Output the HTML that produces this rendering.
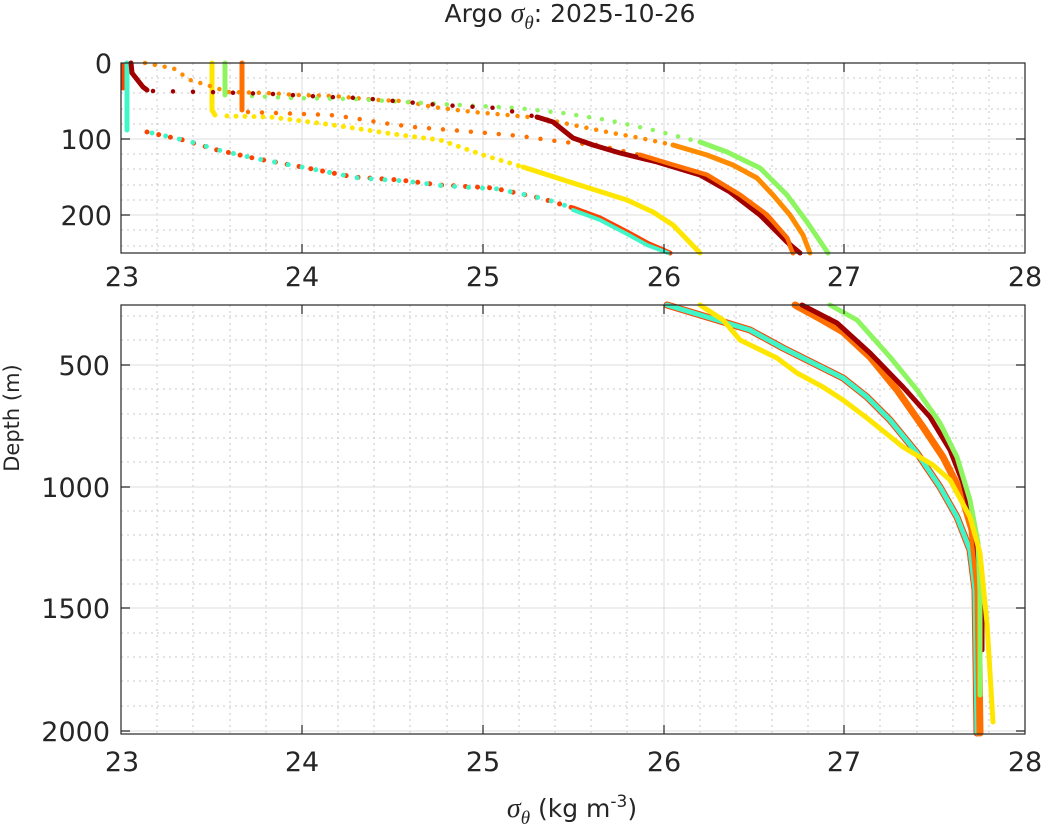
<!DOCTYPE html>
<html><head><meta charset="utf-8"><style>
body{margin:0;background:#fff;}
text{font-family:"DejaVu Sans","Liberation Sans",sans-serif;fill:#262626;}
</style></head><body>
<svg width="1044" height="835" viewBox="0 0 1044 835" xmlns="http://www.w3.org/2000/svg">
<g>
<g stroke="#c8c8c8" stroke-width="1" stroke-dasharray="2,4">
<path d="M157,63V253M193,63V253M230,63V253M266,63V253M338,63V253M374,63V253M410,63V253M447,63V253M519,63V253M555,63V253M591,63V253M627,63V253M700,63V253M736,63V253M772,63V253M808,63V253M880,63V253M917,63V253M953,63V253M989,63V253"/>
<path d="M121,78H1025M121,93H1025M121,109H1025M121,124H1025M121,154H1025M121,169H1025M121,185H1025M121,200H1025M121,230H1025M121,246H1025"/>
</g>
<g stroke="#dcdcdc" stroke-width="1">
<path d="M302,63V253M483,63V253M664,63V253M844,63V253M121,139H1025M121,215H1025"/>
</g>
<g fill="none" stroke-linecap="round" stroke-linejoin="round">
<path d="M123,65 L123,88" stroke="#ff4000" stroke-width="5"/>
<path d="M127,63 L127,130" stroke="#40f5c8" stroke-width="5"/>
<path d="M147,132 L183,140 L217,150 L253,158 L307,168 L353,177 L400,180 L440,185 L493,188 L540,198 L573,208" stroke="#ff4000" stroke-width="5" stroke-dasharray="0,12"/>
<path d="M152,133 L188,141 L222,151 L258,159 L312,169 L358,178 L405,181 L445,186 L498,189 L545,199 L573,208" stroke="#40f5c8" stroke-width="5" stroke-dasharray="0,14"/>
<path d="M573,208 L600,218 L627,232 L647,243 L670,253" stroke="#ff4000" stroke-width="5"/>
<path d="M573,210 L600,220 L627,234 L647,245 L668,253" stroke="#40f5c8" stroke-width="4"/>
<path d="M212,63 L212,110 L215,115" stroke="#ffe600" stroke-width="5"/>
<path d="M227,116 L270,117 L333,125 L400,135 L440,140 L483,155 L523,167" stroke="#ffe600" stroke-width="5" stroke-dasharray="0,9"/>
<path d="M523,167 L573,183 L627,200 L653,212 L673,225 L700,253" stroke="#ffe600" stroke-width="5"/>
<path d="M145,63 L160,66 L173,68 L190,80 L207,85 L228,92 L267,93 L297,95 L333,96 L377,100 L403,101 L433,107 L473,112 L507,115 L540,118 L573,125 L607,132 L640,138 L673,145" stroke="#ff8c00" stroke-width="4.5" stroke-dasharray="0,10"/>
<path d="M673,145 L707,155 L733,165 L757,178 L773,195 L790,215 L803,235 L810,253" stroke="#ff8c00" stroke-width="5"/>
<path d="M242,63 L242,110" stroke="#ff7000" stroke-width="5"/>
<path d="M248,112 L330,115 L353,118 L383,123 L413,127 L450,130 L487,133 L520,136 L563,142 L597,145 L640,155" stroke="#ff7000" stroke-width="4.5" stroke-dasharray="0,14"/>
<path d="M640,155 L673,165 L707,175 L740,195 L767,215 L787,238 L793,253" stroke="#ff7000" stroke-width="5"/>
<path d="M225,63 L225,95" stroke="#8cf560" stroke-width="5"/>
<path d="M252,96 L289,98 L353,99 L440,104 L517,108 L563,113 L607,120 L653,130 L700,142" stroke="#8cf560" stroke-width="4.5" stroke-dasharray="0,13"/>
<path d="M700,142 L727,152 L760,168 L787,195 L807,222 L828,253" stroke="#8cf560" stroke-width="5"/>
<path d="M131,63 L132,73 L143,87 L147,90" stroke="#a00000" stroke-width="5"/>
<path d="M153,91 L208,92 L273,94 L327,97 L360,98 L440,105 L497,108 L537,117" stroke="#a00000" stroke-width="4.5" stroke-dasharray="0,20"/>
<path d="M537,117 L553,122 L573,138 L593,145 L620,153 L657,162 L700,175 L730,192 L760,215 L787,242 L800,253" stroke="#a00000" stroke-width="5"/>
<path d="M640,155 L673,165 L707,175 L740,195 L767,215 L787,238 L793,253" stroke="#ff7000" stroke-width="4"/>
</g>
<rect x="121" y="63" width="904" height="190" fill="none" stroke="#262626" stroke-width="1.2"/>
<g stroke="#262626" stroke-width="1.2"><path d="M302,253v-9M483,253v-9M664,253v-9M844,253v-9M302,63v9M483,63v9M664,63v9M844,63v9M121,139h9M121,215h9M1025,139h-9M1025,215h-9"/></g>
<g font-size="27" text-anchor="end"><text x="112" y="73">0</text><text x="112" y="149">100</text><text x="112" y="225">200</text></g>
<g font-size="27" text-anchor="middle"><text x="122" y="286">23</text><text x="302" y="286">24</text><text x="483" y="286">25</text><text x="664" y="286">26</text><text x="844" y="286">27</text><text x="1025" y="286">28</text></g>
</g>
<g>
<g stroke="#c8c8c8" stroke-width="1" stroke-dasharray="2,4">
<path d="M157,305V734M193,305V734M230,305V734M266,305V734M338,305V734M374,305V734M410,305V734M447,305V734M519,305V734M555,305V734M591,305V734M627,305V734M700,305V734M736,305V734M772,305V734M808,305V734M880,305V734M917,305V734M953,305V734M989,305V734"/>
<path d="M121,316H1025M121,340H1025M121,389H1025M121,414H1025M121,438H1025M121,462H1025M121,511H1025M121,535H1025M121,560H1025M121,584H1025M121,633H1025M121,657H1025M121,681H1025M121,706H1025"/>
</g>
<g stroke="#dcdcdc" stroke-width="1">
<path d="M302,305V734M483,305V734M664,305V734M844,305V734M121,365H1025M121,487H1025M121,608H1025M121,731H1025"/>
</g>
<g fill="none" stroke-linecap="round" stroke-linejoin="round">
<path d="M667,305 L717,320 L750,330 L783,348 L817,365 L843,378 L867,397 L890,420 L917,453 L940,487 L957,517 L970,550 L975,590 L977,733" stroke="#ff4000" stroke-width="7"/>
<path d="M667,305 L717,320 L750,330 L783,348 L817,365 L843,378 L867,397 L890,420 L917,453 L940,487 L957,517 L970,550 L975,590 L977,733" stroke="#40f5c8" stroke-width="5"/>
<path d="M795,305 L817,317 L843,332 L870,357 L897,390 L923,427 L943,457 L960,490 L972,530 L978,590 L980,733" stroke="#ff7000" stroke-width="7"/>
<path d="M802,305 L837,323 L870,353 L903,387 L930,417 L950,450 L963,483 L975,530 L982,590 L982,650" stroke="#a00000" stroke-width="5"/>
<path d="M830,305 L857,320 L890,357 L917,390 L940,423 L957,457 L970,500 L978,543 L980,590 L980,695" stroke="#8cf560" stroke-width="5"/>
<path d="M700,305 L723,320 L740,340 L777,358 L797,373 L823,387 L843,400 L867,418 L903,447 L933,465 L950,480 L970,517 L980,553 L987,623 L993,722" stroke="#ffe600" stroke-width="5"/>
</g>
<rect x="121" y="305" width="904" height="429" fill="none" stroke="#262626" stroke-width="1.2"/>
<g stroke="#262626" stroke-width="1.2"><path d="M302,734v-9M483,734v-9M664,734v-9M844,734v-9M302,305v9M483,305v9M664,305v9M844,305v9M121,365h9M121,487h9M121,608h9M121,731h9M1025,365h-9M1025,487h-9M1025,608h-9M1025,731h-9"/></g>
<g font-size="27" text-anchor="end"><text x="110" y="375">500</text><text x="110" y="497">1000</text><text x="110" y="618">1500</text><text x="110" y="741">2000</text></g>
<g font-size="27" text-anchor="middle"><text x="122" y="771">23</text><text x="302" y="771">24</text><text x="483" y="771">25</text><text x="664" y="771">26</text><text x="844" y="771">27</text><text x="1025" y="771">28</text></g>
</g>
<text x="19" y="418" font-size="21" text-anchor="middle" transform="rotate(-90 19 418)">Depth (m)</text>
<text x="572" y="817" font-size="25" text-anchor="middle"><tspan font-family="Liberation Serif" font-style="italic" font-size="28">σ</tspan><tspan font-family="Liberation Serif" font-style="italic" font-size="19" dy="7">θ</tspan><tspan dy="-7"> (kg m</tspan><tspan font-size="17" dy="-10">-3</tspan><tspan dy="10">)</tspan></text>
<text x="570" y="22" font-size="25" text-anchor="middle">Argo <tspan font-family="Liberation Serif" font-style="italic" font-size="28">σ</tspan><tspan font-family="Liberation Serif" font-style="italic" font-size="19" dy="7">θ</tspan><tspan dy="-7">: 2025-10-26</tspan></text>
</svg>
</body></html>
